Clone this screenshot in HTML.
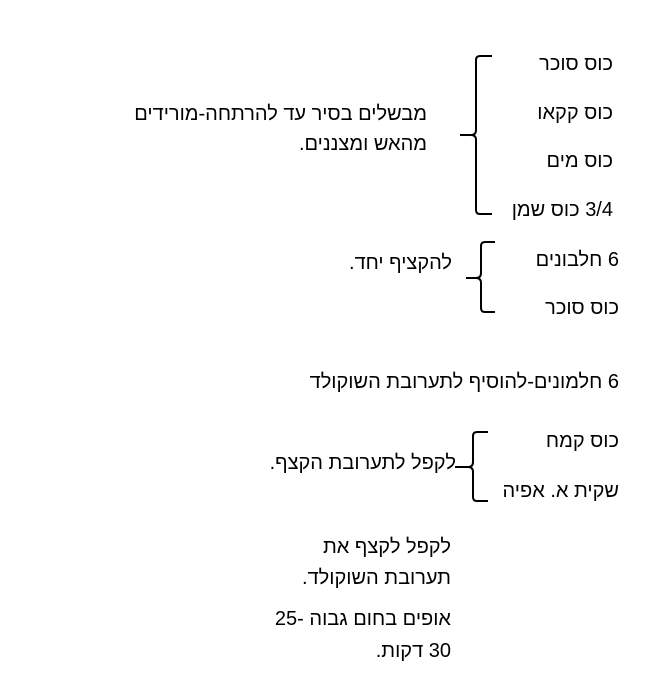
<!DOCTYPE html>
<html><head><meta charset="utf-8"><style>
body{margin:0;background:#fff;width:661px;height:681px;position:relative;overflow:hidden;font-family:"Liberation Sans",Arial,sans-serif;font-size:20px;color:#000}
.t{position:absolute;direction:rtl;text-align:right;white-space:nowrap;line-height:22px}
svg{position:absolute;left:0;top:0}
</style></head><body>
<div class="t" style="right:48px;top:53px">כוס סוכר</div>
<div class="t" style="right:48px;top:102px">כוס קקאו</div>
<div class="t" style="right:48px;top:150px">כוס מים</div>
<div class="t" style="right:48px;top:199px">3/4 כוס שמן</div>
<div class="t" style="right:234px;top:99px;line-height:30px">מבשלים בסיר עד להרתחה-מורידים<br>מהאש ומצננים.</div>
<div class="t" style="right:42px;top:249px">6 חלבונים</div>
<div class="t" style="right:42px;top:297px">כוס סוכר</div>
<div class="t" style="right:209px;top:252px">להקציף יחד.</div>
<div class="t" style="right:42px;top:371px">6 חלמונים-להוסיף לתערובת השוקולד</div>
<div class="t" style="right:42px;top:430px">כוס קמח</div>
<div class="t" style="right:42px;top:480px">שקית א. אפיה</div>
<div class="t" style="right:205px;top:452px">לקפל לתערובת הקצף.</div>
<div class="t" style="right:210px;top:532px;line-height:31px">לקפל לקצף את<br>תערובת השוקולד.</div>
<div class="t" style="right:210px;top:603px;line-height:32px">אופים בחום גבוה -25<br>30 דקות.</div>
<svg width="661" height="681" fill="none" stroke="#000" stroke-width="2">
<path d="M492 56 H480 Q476 56 476 60 V130 Q476 135 471 135 H460 M471 135 Q476 135 476 140 V210 Q476 214 480 214 H492"/>
<path d="M495 242 H485 Q481 242 481 246 V273 Q481 278 476 278 H466 M476 278 Q481 278 481 283 V308 Q481 312 485 312 H495"/>
<path d="M488 432 H477 Q473 432 473 436 V462 Q473 467 468 467 H455 M468 467 Q473 467 473 472 V497 Q473 501 477 501 H488"/>
</svg>
</body></html>
